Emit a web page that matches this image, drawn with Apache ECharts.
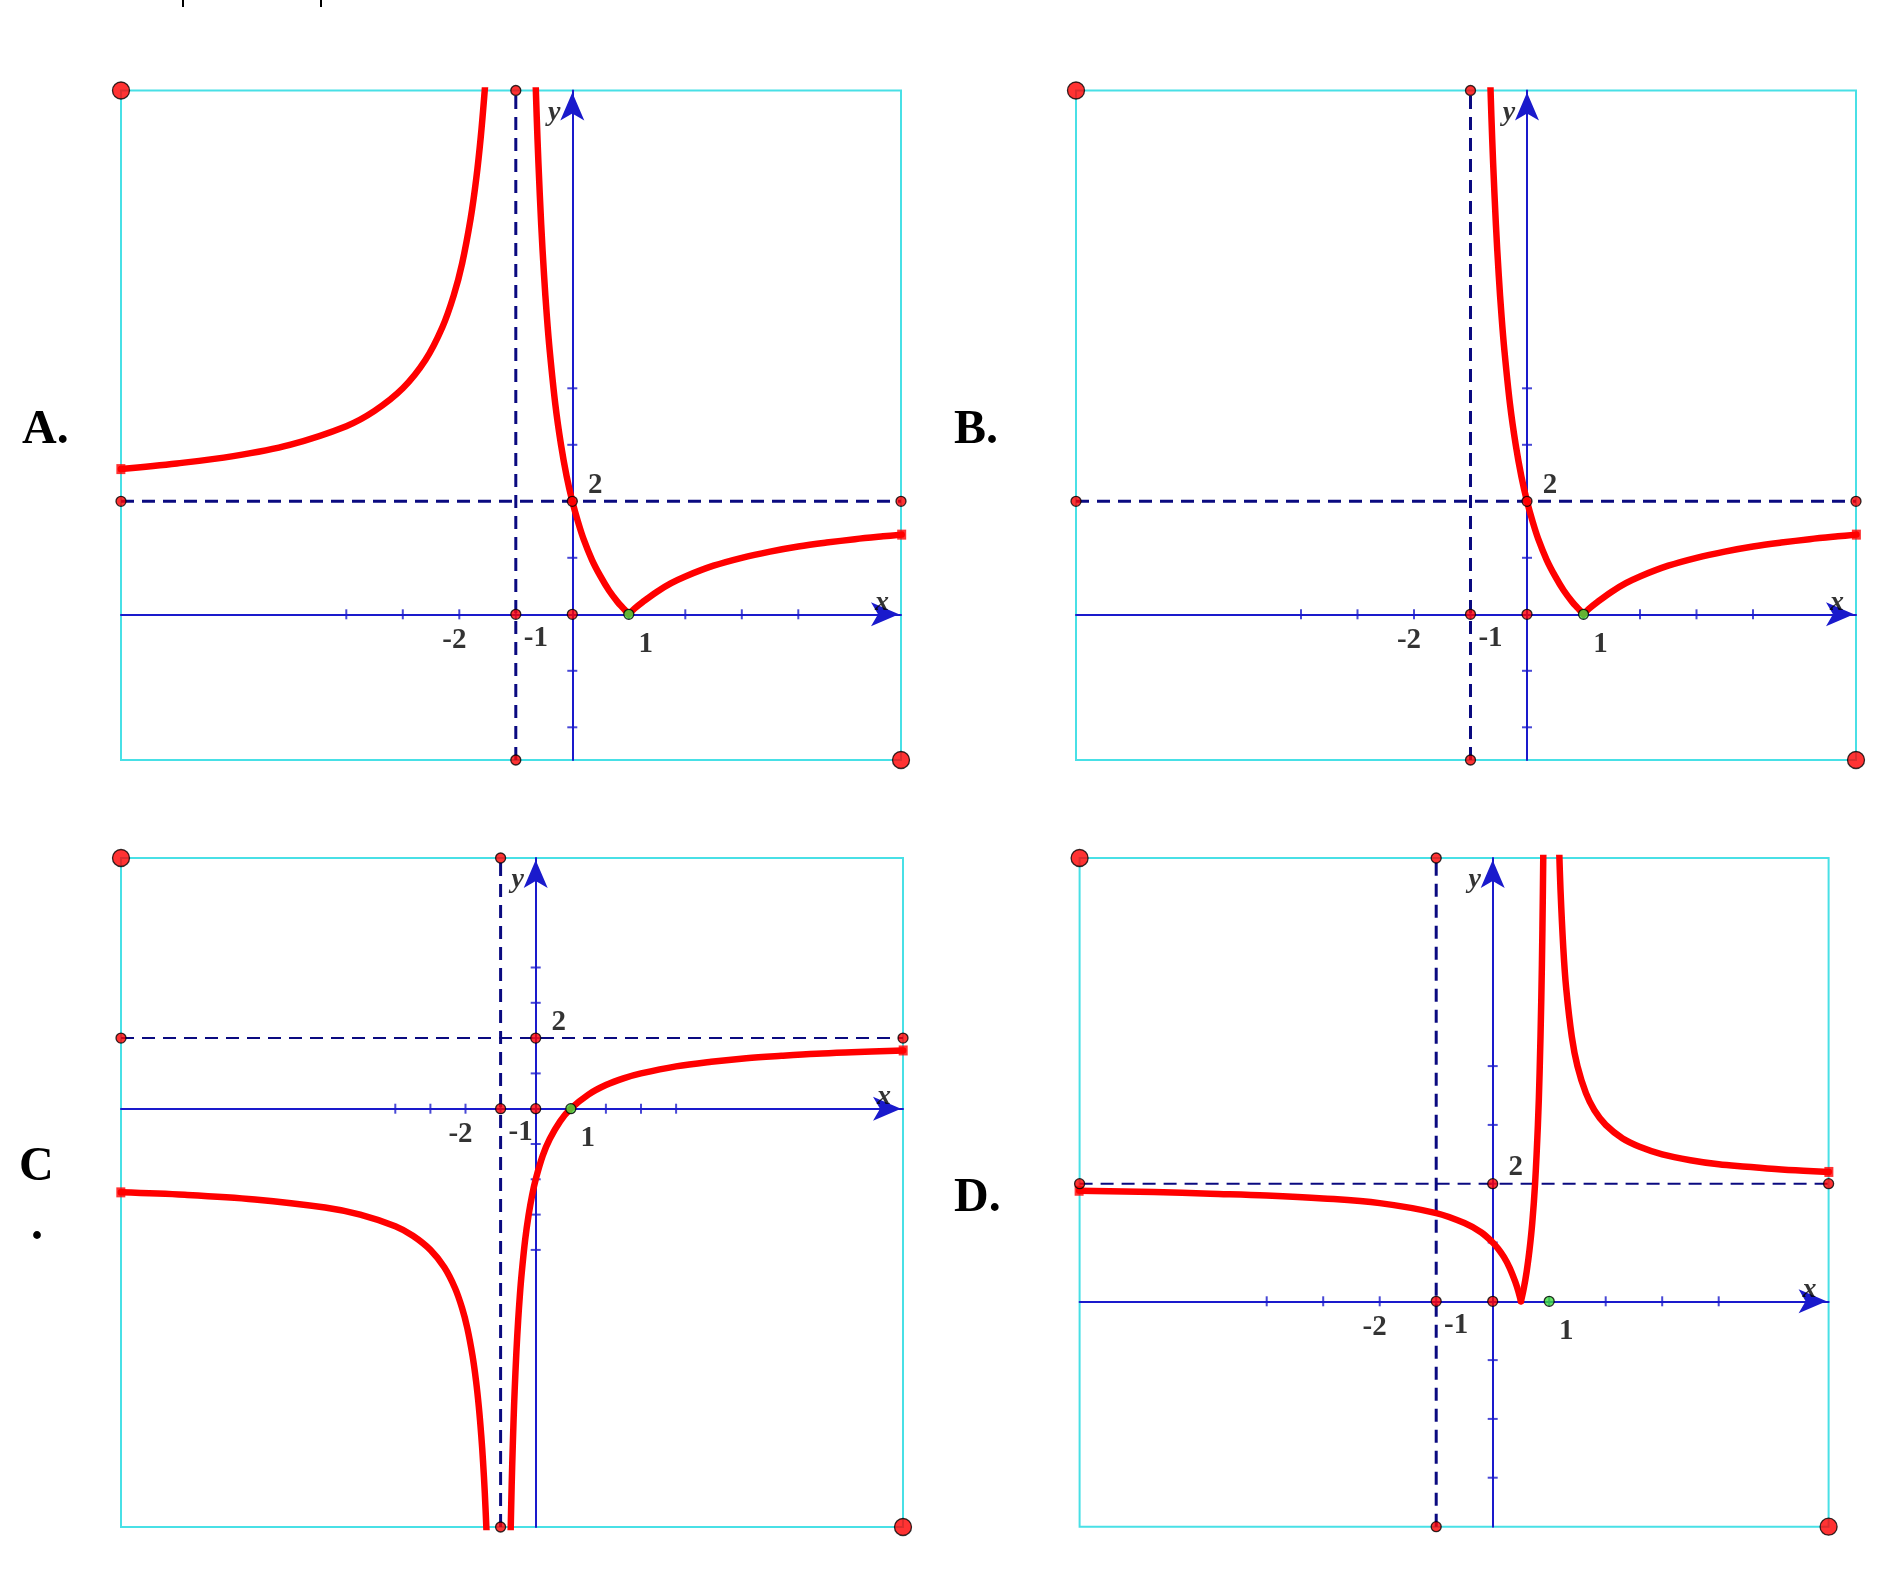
<!DOCTYPE html>
<html><head><meta charset="utf-8">
<script src="https://cdn.jsdelivr.net/npm/echarts@6/dist/echarts.min.js"></script>
<style>html,body{margin:0;padding:0;background:#fff}#c{width:1900px;height:1574px}</style>
</head><body><div id="c"></div>
<script>
// ---------------- DATA ----------------
const panelNames = ['A.', 'B.', 'C', 'D.'];
const xTicks = [-4, -3, -2, -1, 1, 2, 3, 4];
const yTicksAB = [-2, -1, 1, 2, 3, 4];
const yTicksC = [-4, -3, -2, -1, 1, 2, 3, 4];
const yTicksD = [-3, -2, -1, 1, 2, 3, 4];
const tickLabelTexts = ['-2', '-1', '1', '2'];
const tickLabelAt = [[-2, 0], [-1, 0], [1, 0], [0, 2]];
const asymptoteX = -1;
const asymptoteY = 2;
const rootX = 1;

// Panel A / B curves (x, y)
const curveA_left = [[-7.99,2.57],[-7,2.67],[-6,2.8],[-5,3.0],[-4,3.33],[-3.5,3.6],[-3,4.0],[-2.6,4.5],[-2.3,5.08],[-2.1,5.64],[-1.95,6.21],[-1.8,7.0],[-1.7,7.71],[-1.62,8.45],[-1.55,9.27],[-1.53,9.55]];
const curveA_mid = [[-0.66,9.76],[-0.63,8.81],[-0.6,8.0],[-0.55,6.89],[-0.5,6.0],[-0.45,5.27],[-0.4,4.67],[-0.3,3.71],[-0.2,3.0],[-0.1,2.44],[0,2.0],[0.1,1.64],[0.2,1.33],[0.35,0.96],[0.5,0.67],[0.65,0.42],[0.8,0.22],[0.9,0.11],[1,0]];
const curveA_right = [[1,0],[1.1,0.1],[1.25,0.22],[1.5,0.4],[1.75,0.55],[2,0.67],[2.5,0.86],[3,1.0],[3.5,1.11],[4,1.2],[4.5,1.27],[5,1.33],[5.5,1.38],[5.83,1.41]];
// Panel C curves
const curveC_left = [[-11.82,-2.37],[-10,-2.44],[-8,-2.57],[-6,-2.8],[-5,-3.0],[-4,-3.33],[-3.5,-3.6],[-3,-4.0],[-2.6,-4.5],[-2.3,-5.08],[-2.1,-5.64],[-1.95,-6.21],[-1.8,-7.0],[-1.7,-7.71],[-1.62,-8.45],[-1.55,-9.27],[-1.5,-10.0],[-1.45,-10.89],[-1.4,-12.0]];
const curveC_right = [[-0.72,-12.29],[-0.7,-11.33],[-0.67,-10.12],[-0.63,-8.81],[-0.6,-8.0],[-0.55,-6.89],[-0.5,-6.0],[-0.45,-5.27],[-0.4,-4.67],[-0.3,-3.71],[-0.2,-3.0],[-0.1,-2.44],[0,-2.0],[0.2,-1.33],[0.4,-0.86],[0.7,-0.35],[1,0],[1.5,0.4],[2,0.67],[2.5,0.86],[3,1.0],[4,1.2],[5,1.33],[6,1.43],[7,1.5],[8,1.56],[9,1.6],[10.47,1.65]];
// Panel D curves
const curveD_1 = [[-7.32,1.88],[-6,1.86],[-5,1.83],[-4,1.8],[-3,1.75],[-2,1.67],[-1,1.5],[-0.5,1.33],[-0.2,1.17],[0,1.0],[0.1,0.89],[0.2,0.75],[0.3,0.57],[0.4,0.33],[0.45,0.18],[0.5,0]];
const curveD_2 = [[0.5,0],[0.55,0.22],[0.6,0.5],[0.65,0.86],[0.7,1.33],[0.75,2.0],[0.8,3.0],[0.83,3.88],[0.86,5.14],[0.88,6.33],[0.9,8.0]];
const curveD_3 = [[1.17,7.88],[1.2,7.0],[1.25,6.0],[1.3,5.33],[1.4,4.5],[1.5,4.0],[1.65,3.54],[1.8,3.25],[2,3.0],[2.3,2.77],[2.6,2.63],[3,2.5],[3.5,2.4],[4,2.33],[4.5,2.29],[5,2.25],[5.5,2.22],[5.95,2.2]];

// ---------------- LAYOUT / STYLE ----------------
const BLUE = '#1a1acc', NAVY = '#0a0a80', RED = '#ff0000', CYAN = '#48e0e6', GREEN = '#3ee03e';
const layouts = [
  {left:121, top:90.5, right:901, bottom:760, ox:572.3, oy:614.3, ux:56.5, uy:56.5, hDash:3},
  {left:1076, top:90.5, right:1856, bottom:760, ox:1527, oy:614.3, ux:56.5, uy:56.5, hDash:3},
  {left:121, top:858, right:903, bottom:1527, ox:535.7, oy:1108.7, ux:35.1, uy:35.3, hDash:2},
  {left:1079.6, top:858, right:1828.6, bottom:1526.7, ox:1492.7, oy:1301.3, ux:56.5, uy:58.8, hDash:2}
];
const panelData = [
  {curves:[curveA_left, curveA_mid, curveA_right], ends:[curveA_left[0], curveA_right[curveA_right.length-1]], yTicks:yTicksAB},
  {curves:[curveA_mid, curveA_right], ends:[curveA_right[curveA_right.length-1]], yTicks:yTicksAB},
  {curves:[curveC_left, curveC_right], ends:[curveC_left[0], curveC_right[curveC_right.length-1]], yTicks:yTicksC},
  {curves:[curveD_1, curveD_2, curveD_3], ends:[curveD_1[0], curveD_3[curveD_3.length-1]], yTicks:yTicksD}
];
const labelOffsets = [[-5,26],[20,24],[17,30],[23,-16]];
const SERIF = '"Liberation Serif","Times New Roman",serif';

const grids = [], xAxes = [], yAxes = [], series = [];
layouts.forEach((L, i) => {
  const xmin = (L.left - L.ox) / L.ux, xmax = (L.right - L.ox) / L.ux;
  const ymax = (L.oy - L.top) / L.uy, ymin = (L.oy - L.bottom) / L.uy;
  grids.push({left:L.left, top:L.top, width:L.right-L.left, height:L.bottom-L.top,
    show:true, borderColor:CYAN, borderWidth:2, backgroundColor:'transparent'});
  const axisLine = {show:true, onZero:true, lineStyle:{color:BLUE, width:2},
    symbol:['none','arrow'], symbolSize:[18,28], symbolOffset:[0,-2]};
  xAxes.push({gridIndex:i, type:'value', min:xmin, max:xmax, axisLine,
    axisTick:{show:false}, axisLabel:{show:false}, splitLine:{show:false}});
  yAxes.push({gridIndex:i, type:'value', min:ymin, max:ymax, axisLine,
    axisTick:{show:false}, axisLabel:{show:false}, splitLine:{show:false}});
  const ax = {xAxisIndex:i, yAxisIndex:i, silent:true, animation:false};
  const P = panelData[i];
  // dashed asymptotes
  series.push(Object.assign({type:'line', symbol:'none', z:3,
    data:[[asymptoteX, ymin],[asymptoteX, ymax]],
    lineStyle:{color:NAVY, width:3, type:[13,8]}}, ax));
  series.push(Object.assign({type:'line', symbol:'none', z:3,
    data:[[xmin, asymptoteY],[xmax, asymptoteY]],
    lineStyle:{color:NAVY, width:L.hDash, type:[13,8]}}, ax));
  // ticks
  series.push(Object.assign({type:'scatter', symbol:'rect', symbolSize:[2,10], z:4, clip:false,
    itemStyle:{color:BLUE}, data:xTicks.map(v => [v, 0])}, ax));
  series.push(Object.assign({type:'scatter', symbol:'rect', symbolSize:[10,2], z:4, clip:false,
    itemStyle:{color:BLUE}, data:P.yTicks.map(v => [0, v])}, ax));
  // curves
  P.curves.forEach(c => {
    series.push(Object.assign({type:'line', symbol:'none', smooth:0.35, z:5, data:c,
      lineStyle:{color:RED, width:6.5, cap:'round', join:'round'}}, ax));
  });
  series.push(Object.assign({type:'scatter', symbol:'rect', symbolSize:[9,10], z:5, clip:false,
    itemStyle:{color:RED}, data:P.ends}, ax));
  // small red dots
  series.push(Object.assign({type:'scatter', symbol:'circle', symbolSize:10, z:6, clip:false,
    itemStyle:{color:RED, borderColor:'#000', borderWidth:1.3},
    data:[[asymptoteX, ymax],[asymptoteX, ymin],[xmin, asymptoteY],[xmax, asymptoteY],[0, asymptoteY],[asymptoteX, 0],[0, 0]]}, ax));
  // big corner dots
  series.push(Object.assign({type:'scatter', symbol:'circle', symbolSize:17, z:6, clip:false,
    itemStyle:{color:RED, borderColor:'#000', borderWidth:1.3},
    data:[[xmin, ymax],[xmax, ymin]]}, ax));
  // green root dot
  series.push(Object.assign({type:'scatter', symbol:'circle', symbolSize:10, z:6, clip:false,
    itemStyle:{color:GREEN, borderColor:'#000', borderWidth:1.3},
    data:[[rootX, 0]]}, ax));
  // tick labels
  series.push(Object.assign({type:'scatter', symbolSize:0, z:7, clip:false,
    data:tickLabelTexts.map((t, k) => ({name:t, value:tickLabelAt[k],
      label:{show:true, position:'inside', offset:labelOffsets[k], formatter:'{b}',
        fontFamily:SERIF, fontWeight:'bold', fontSize:29, color:'#000'}}))}, ax));
  // axis letters
  series.push(Object.assign({type:'scatter', symbolSize:0, z:7, clip:false,
    data:[
      {name:'x', value:[xmax, 0], label:{show:true, position:'inside', offset:[-19,-12], formatter:'{b}',
        fontFamily:SERIF, fontWeight:'bold', fontStyle:'italic', fontSize:28, color:'#000'}},
      {name:'y', value:[0, ymax], label:{show:true, position:'inside', offset:[-18,22], formatter:'{b}',
        fontFamily:SERIF, fontWeight:'bold', fontStyle:'italic', fontSize:28, color:'#000'}}
    ]}, ax));
});

const letterFont = 'bold 48px ' + SERIF;
const chart = echarts.init(document.getElementById('c'), null, {renderer:'canvas'});
chart.setOption({
  animation:false,
  backgroundColor:'#ffffff',
  grid:grids, xAxis:xAxes, yAxis:yAxes, series:series,
  graphic:[
    {type:'line', shape:{x1:183, y1:0, x2:183, y2:7}, style:{stroke:'#000', lineWidth:2}},
    {type:'line', shape:{x1:321, y1:0, x2:321, y2:7}, style:{stroke:'#000', lineWidth:2}},
    {type:'text', x:22, y:431, style:{text:panelNames[0], font:letterFont, fill:'#000', textAlign:'left', textVerticalAlign:'middle'}},
    {type:'text', x:954, y:431, style:{text:panelNames[1], font:letterFont, fill:'#000', textAlign:'left', textVerticalAlign:'middle'}},
    {type:'text', x:19, y:1168, style:{text:panelNames[2], font:letterFont, fill:'#000', textAlign:'left', textVerticalAlign:'middle'}},
    {type:'text', x:37, y:1227, style:{text:'.', font:letterFont, fill:'#000', textAlign:'center', textVerticalAlign:'middle'}},
    {type:'text', x:954, y:1199, style:{text:panelNames[3], font:letterFont, fill:'#000', textAlign:'left', textVerticalAlign:'middle'}}
  ]
});
</script></body></html>
